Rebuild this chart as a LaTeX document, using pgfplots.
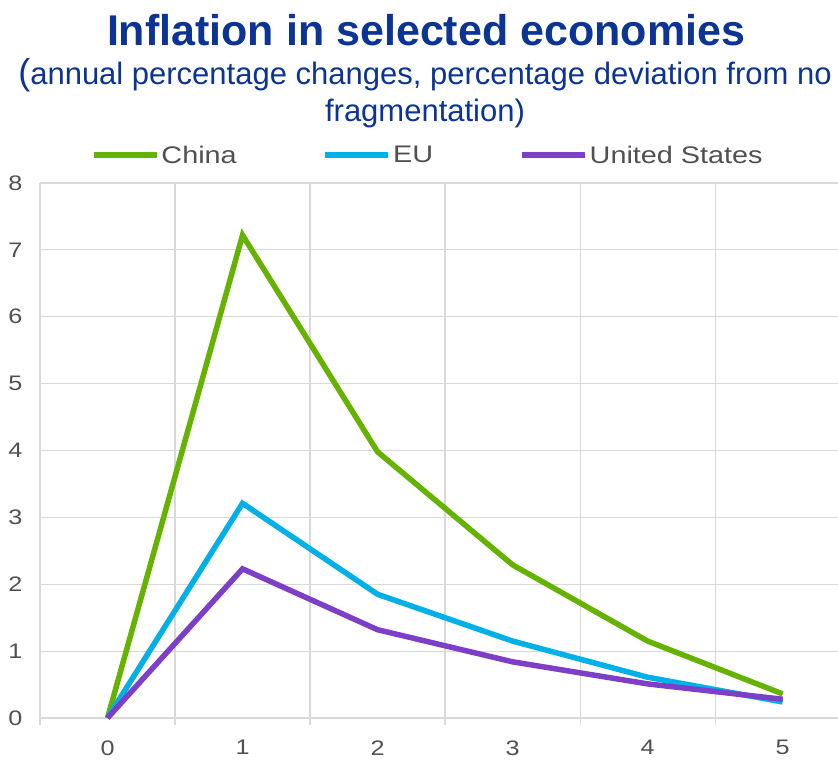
\documentclass[border=0pt]{standalone}
\usepackage{pgfplots}
\pgfplotsset{compat=1.18}
\usepackage{fontspec}
\setmainfont{Liberation Sans}
\definecolor{ecbblue}{HTML}{0B3494}
\definecolor{cgreen}{HTML}{65B300}
\definecolor{cblue}{HTML}{00B0E6}
\definecolor{cpurple}{HTML}{7E3FC8}
\definecolor{gridgray}{HTML}{D9D9D9}
\definecolor{txtgray}{HTML}{505050}
\begin{document}
\begin{tikzpicture}
\begin{axis}[
  at={(0pt,0pt)}, anchor=south west,
  scale only axis,
  width=798pt, height=535pt,
  xmin=-0.5, xmax=5.41, ymin=0, ymax=8,
  axis x line*=bottom, axis y line*=left,
  axis line style={gridgray, line width=1.2pt, -},
  xtick={0,1,2,3,4,5},
  minor xtick={-0.5,0.5,1.5,2.5,3.5,4.5},
  ytick={0,1,...,8},
  major tick length=0pt,
  minor tick length=7pt,
  tick align=outside,
  minor tick style={gridgray, line width=1.2pt},
  xminorgrids=true, ymajorgrids=true,
  grid style={gridgray, line width=1.2pt},
  minor grid style={gridgray, line width=1.2pt},
  ticklabel style={font=\fontsize{21}{24}\selectfont, text=txtgray},
  /pgf/number format/assume math mode=true,
  xticklabel={\scalebox{1.2}[1]{\pgfmathprintnumber{\tick}}},
  yticklabel={\scalebox{1.2}[1]{\pgfmathprintnumber{\tick}}},
  xticklabel style={yshift=-19pt},
  yticklabel style={xshift=-14pt},
  clip=false,
  legend columns=3,
  legend style={at={(0.486,1.052)}, anchor=center, draw=none, fill=none,
    font=\fontsize{24}{27}\selectfont, text=txtgray,
    /tikz/every even column/.append style={column sep=84pt}},
  legend image code/.code={\draw[#1, line width=5.5pt] (0pt,0pt) -- (63pt,0pt);},
]
\addplot[cgreen, line width=5.5pt] coordinates {(0,0) (1,7.22) (2,3.98) (3,2.29) (4,1.15) (5,0.36)};
\addlegendentry{\scalebox{1.2}[1]{China}}
\addplot[cblue, line width=5.5pt] coordinates {(0,0) (1,3.21) (2,1.85) (3,1.15) (4,0.61) (5,0.24)};
\addlegendentry{\scalebox{1.2}[1]{EU}}
\addplot[cpurple, line width=5.5pt] coordinates {(0,0) (1,2.23) (2,1.32) (3,0.84) (4,0.51) (5,0.28)};
\addlegendentry{\scalebox{1.2}[1]{United States}}
\end{axis}
\node[text=ecbblue, font=\bfseries\fontsize{43}{46}\selectfont] at (386pt,688pt) {Inflation in selected economies};
\node[text=ecbblue, font=\fontsize{31}{34}\selectfont] at (385pt,643pt) {{\fontsize{36}{36}\selectfont(}annual percentage changes, percentage deviation from no};
\node[text=ecbblue, font=\fontsize{31}{34}\selectfont] at (385pt,605pt) {fragmentation)};
\pgfresetboundingbox
\path (-40pt,-42pt) rectangle (798pt,718pt);
\end{tikzpicture}
\end{document}
